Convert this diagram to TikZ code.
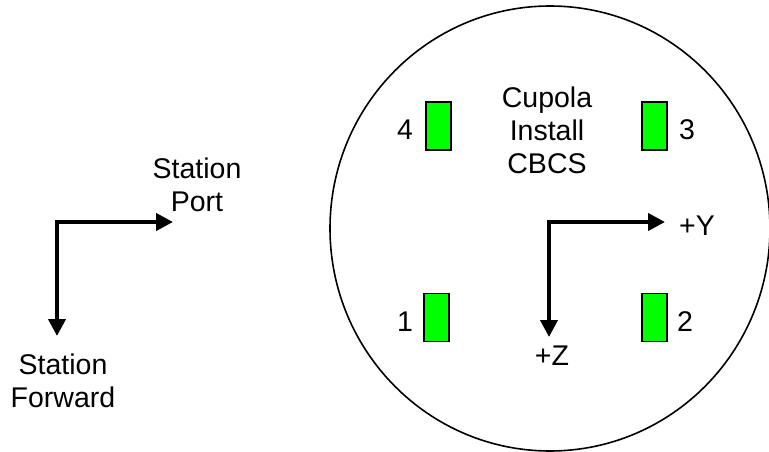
\documentclass[tikz,border=0pt]{standalone}
\usepackage{fontspec}
\setmainfont{Liberation Sans}
\usetikzlibrary{arrows.meta,shapes.geometric}
\definecolor{padgreen}{RGB}{0,255,0}
\begin{document}
\begin{tikzpicture}[x=1pt,y=-1pt,
  lbl/.style={font=\fontsize{28.5}{33}\selectfont, inner sep=0pt, align=center},
  pad/.style={draw=black, line width=1.5pt, fill=padgreen, minimum width=25pt, minimum height=48pt, inner sep=0pt},
  axis/.style={line width=4pt, line cap=rect, -{Triangle[length=17pt,width=17pt]}}]
\useasboundingbox (0,0) rectangle (769,452);
\fill[white] (0,0) rectangle (769,452);
% cupola outline
\node[draw=black, line width=1.6pt, ellipse, minimum width=440pt, minimum height=445pt, inner sep=0pt] (cupola) at (550,228.5) {};
% pads
\node[pad] (p4) at (438.5,126) {};
\node[pad] (p3) at (654.5,126) {};
\node[pad] (p1) at (436.5,317.5) {};
\node[pad] (p2) at (654.5,317.5) {};
\node[lbl] (l4) at (405,130) {4};
\node[lbl] (l3) at (687,130) {3};
\node[lbl] (l1) at (405,322) {1};
\node[lbl] (l2) at (685,322) {2};
\node[lbl] (title) at (547,130) {Cupola\\Install\\CBCS};
% cupola axes
\coordinate (co) at (549,222);
\coordinate (cy) at (665,222);
\coordinate (cz) at (549,337);
\draw[axis] (co) -- (cy);
\draw[axis] (co) -- (cz);
\node[lbl] (ly) at (697,226) {+Y};
\node[lbl] (lz) at (552,356) {+Z};
% station axes
\coordinate (so) at (57,222);
\coordinate (sp) at (173,222);
\coordinate (sf) at (57,336);
\draw[axis] (so) -- (sp);
\draw[axis] (so) -- (sf);
\node[lbl] (lp) at (197,185) {Station\\Port};
\node[lbl] (lf) at (63,381) {Station\\Forward};
\end{tikzpicture}
\end{document}
